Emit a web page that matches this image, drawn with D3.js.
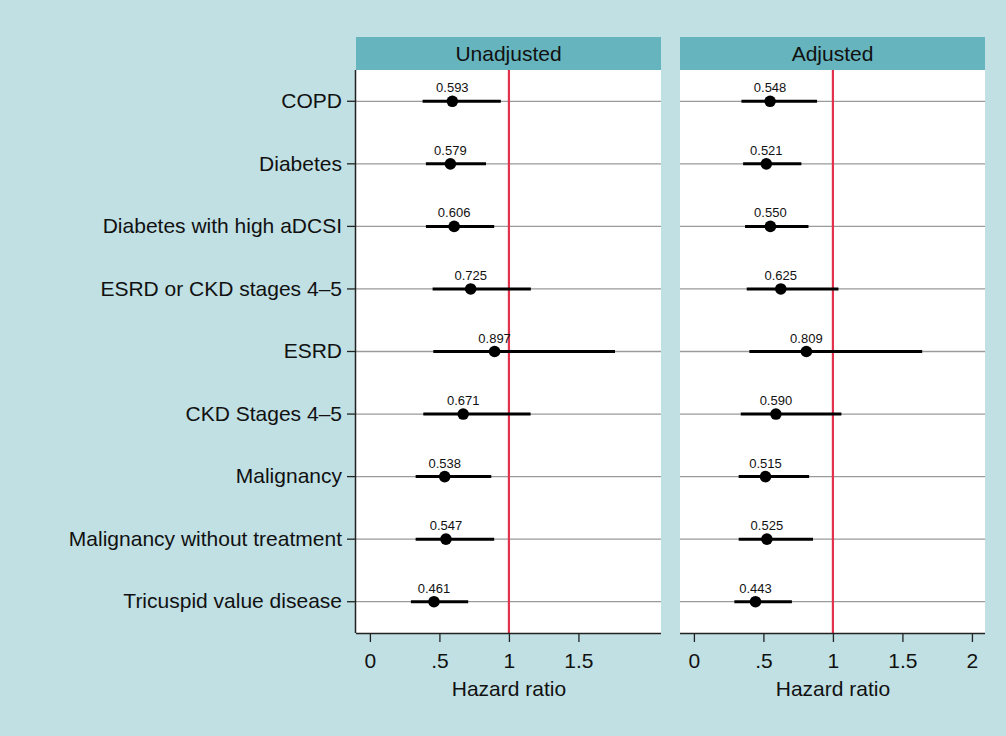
<!DOCTYPE html>
<html><head><meta charset="utf-8">
<script src="https://cdn.jsdelivr.net/npm/d3@7"></script>
<style>html,body{margin:0;padding:0;background:#c0e0e4;}svg{display:block;}</style>
</head><body>
<svg id="chart" width="1006" height="736"></svg>
<script>
const categories = ["COPD","Diabetes","Diabetes with high aDCSI","ESRD or CKD stages 4–5","ESRD","CKD Stages 4–5","Malignancy","Malignancy without treatment","Tricuspid value disease"];
const panels = ["Unadjusted","Adjusted"];
const unadjHR = [0.593,0.579,0.606,0.725,0.897,0.671,0.538,0.547,0.461];
const unadjLo = [0.379,0.403,0.403,0.451,0.456,0.384,0.329,0.329,0.295];
const unadjHi = [0.942,0.835,0.894,1.158,1.763,1.156,0.873,0.894,0.707];
const adjHR = [0.548,0.521,0.550,0.625,0.809,0.590,0.515,0.525,0.443];
const adjLo = [0.342,0.354,0.368,0.380,0.399,0.337,0.322,0.322,0.291];
const adjHi = [0.886,0.773,0.824,1.040,1.642,1.061,0.829,0.857,0.705];
const ticksUnadj = [0,0.5,1,1.5];
const ticksAdj = [0,0.5,1,1.5,2];
const tickLabel = v => v===0?"0":(v<1?String(v).replace(/^0/,""):String(v));
const xLabel = "Hazard ratio";
const refValue = 1;

(function(){
const FONT = "'Liberation Sans', Arial, Helvetica, sans-serif";
const svg = d3.select("#chart");
svg.append("rect").attr("width",1006).attr("height",736).attr("fill","#c0e0e4");

const stripTop = 37, plotTop = 70, plotBottom = 633;
const y = d3.scaleBand().domain(categories).range([plotTop,plotBottom]);
const yc = c => y(c) + y.bandwidth()/2;

const panelDefs = [
  {name:panels[0], x0:356, x1:661, hr:unadjHR, lo:unadjLo, hi:unadjHi, ticks:ticksUnadj, leftAxis:true},
  {name:panels[1], x0:680, x1:985, hr:adjHR, lo:adjLo, hi:adjHi, ticks:ticksAdj, leftAxis:false}
];

panelDefs.forEach(p => {
  const x = d3.scaleLinear().domain([-0.1, 2.094]).range([p.x0, p.x1]);
  const g = svg.append("g");
  g.append("rect").attr("x",p.x0).attr("y",plotTop).attr("width",p.x1-p.x0).attr("height",plotBottom-plotTop).attr("fill","#ffffff");
  g.append("rect").attr("x",p.x0).attr("y",stripTop).attr("width",p.x1-p.x0).attr("height",plotTop-stripTop).attr("fill","#65b4be");
  g.append("text").attr("x",(p.x0+p.x1)/2).attr("y",61).attr("text-anchor","middle")
    .attr("font-family",FONT).attr("font-size",21).attr("fill","#111").text(p.name);
  g.selectAll(".grid").data(categories).enter().append("line")
    .attr("x1",p.x0).attr("x2",p.x1).attr("y1",d=>yc(d)).attr("y2",d=>yc(d))
    .attr("stroke","#9a9a9a").attr("stroke-width",1.3);
  g.append("line").attr("x1",x(refValue)).attr("x2",x(refValue)).attr("y1",plotTop).attr("y2",plotBottom)
    .attr("stroke","#e3334c").attr("stroke-width",2.2);
  g.selectAll(".ci").data(categories).enter().append("line")
    .attr("x1",(d,i)=>x(p.lo[i])).attr("x2",(d,i)=>x(p.hi[i]))
    .attr("y1",d=>yc(d)).attr("y2",d=>yc(d))
    .attr("stroke","#000").attr("stroke-width",3);
  g.selectAll(".pt").data(categories).enter().append("circle")
    .attr("cx",(d,i)=>x(p.hr[i])).attr("cy",d=>yc(d)).attr("r",5.8).attr("fill","#000");
  g.selectAll(".lbl").data(categories).enter().append("text")
    .attr("x",(d,i)=>x(p.hr[i])).attr("y",d=>yc(d)-9).attr("text-anchor","middle")
    .attr("font-family",FONT).attr("font-size",13).attr("fill","#111")
    .text((d,i)=>p.hr[i].toFixed(3));
  const ax = g.append("g").attr("transform",`translate(0,${plotBottom})`)
    .call(d3.axisBottom(x).tickValues(p.ticks).tickFormat(tickLabel).tickSize(9).tickPadding(11).tickSizeOuter(0));
  ax.select(".domain").attr("d",`M${p.x0},0.5H${p.x1}`).attr("stroke","#222").attr("stroke-width",1.5);
  ax.selectAll(".tick line").attr("stroke","#222").attr("stroke-width",1.3);
  ax.selectAll(".tick text").attr("font-family",FONT).attr("font-size",21).attr("fill","#111");
  g.append("text").attr("x",(x(0)+x(2))/2).attr("y",696).attr("text-anchor","middle")
    .attr("font-family",FONT).attr("font-size",21).attr("fill","#111").text(xLabel);
  if (p.leftAxis) {
    const ay = g.append("g").attr("transform",`translate(${p.x0},0)`)
      .call(d3.axisLeft(y).tickSize(9).tickPadding(5).tickSizeOuter(0));
    ay.select(".domain").attr("d",`M-0.5,${plotTop}V${plotBottom}`).attr("stroke","#222").attr("stroke-width",1.5);
    ay.selectAll(".tick line").attr("stroke","#222").attr("stroke-width",1.3);
    ay.selectAll(".tick text").attr("font-family",FONT).attr("font-size",21).attr("fill","#111");
  }
});
})();
</script>
</body></html>
